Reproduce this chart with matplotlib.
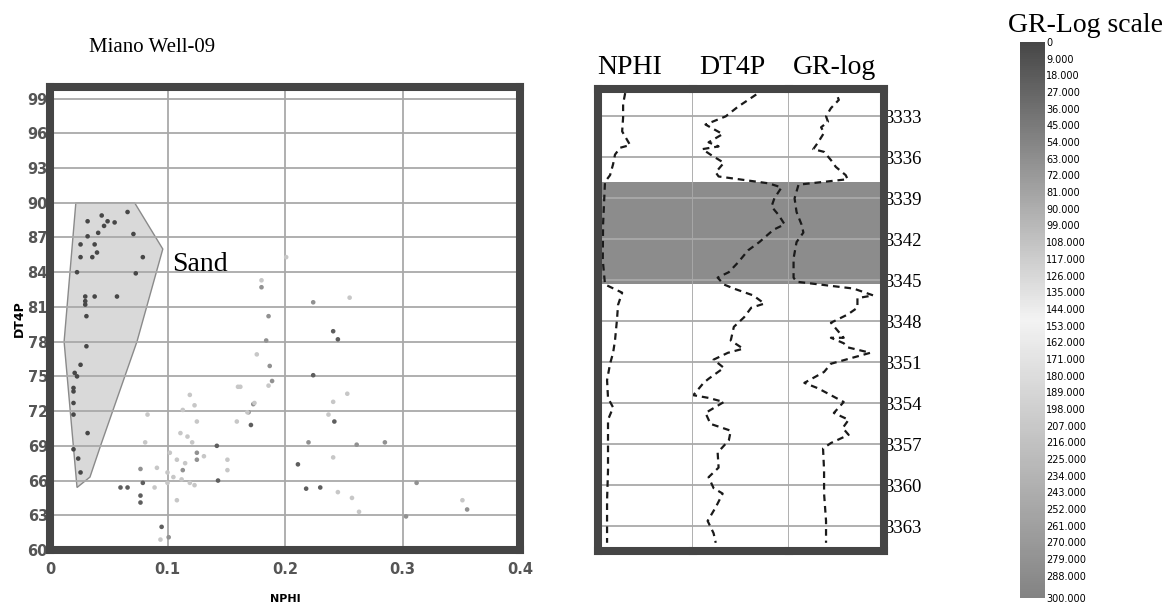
import matplotlib.pyplot as plt
from matplotlib.colors import LinearSegmentedColormap, Normalize
from matplotlib.colorbar import ColorbarBase
from matplotlib.patches import Polygon

# crossplot samples (NPHI, DT4P) coloured by gamma ray
nphi = [
    # clean sand
    0.032, 0.044, 0.049, 0.055, 0.046, 0.066, 0.071, 0.032, 0.041, 0.026,
    0.038, 0.026, 0.036, 0.040, 0.079, 0.023, 0.073, 0.030, 0.030, 0.030,
    0.038, 0.057, 0.031, 0.031, 0.026, 0.021, 0.023, 0.020, 0.020, 0.020,
    0.020, 0.032, 0.020, 0.024, 0.026,
    # low GR outside the sand polygon
    0.060, 0.066, 0.079, 0.077, 0.077, 0.095, 0.142, 0.143, 0.171, 0.211,
    0.241, 0.245, 0.224, 0.218, 0.230, 0.242,
    # medium GR
    0.101, 0.180, 0.186, 0.184, 0.187, 0.189, 0.173, 0.169, 0.224, 0.220,
    0.261, 0.285, 0.312, 0.303, 0.355, 0.113, 0.125, 0.125, 0.077,
    # shaly, high GR
    0.180, 0.186, 0.176, 0.160, 0.253, 0.241, 0.237, 0.241, 0.245, 0.257,
    0.263, 0.351, 0.119, 0.123, 0.113, 0.125, 0.111, 0.117, 0.121, 0.102,
    0.108, 0.115, 0.091, 0.100, 0.105, 0.112, 0.119, 0.123, 0.089, 0.100,
    0.108, 0.081, 0.083, 0.162, 0.151, 0.151, 0.159, 0.168, 0.174, 0.131,
    0.094, 0.201, 0.255,
]
dt4p = [
    88.4, 88.9, 88.4, 88.3, 88.0, 89.2, 87.3, 87.1, 87.4, 86.4,
    86.4, 85.3, 85.3, 85.7, 85.3, 84.0, 83.9, 81.9, 81.5, 81.2,
    81.9, 81.9, 80.2, 77.6, 76.0, 75.3, 75.0, 74.0, 73.7, 72.7,
    71.7, 70.1, 68.7, 67.9, 66.7,
    65.4, 65.4, 65.8, 64.7, 64.1, 62.0, 69.0, 66.0, 70.8, 67.4,
    78.9, 78.2, 75.1, 65.3, 65.4, 71.1,
    61.1, 82.7, 80.2, 78.1, 75.9, 74.6, 72.6, 71.9, 81.4, 69.3,
    69.1, 69.3, 65.8, 62.9, 63.5, 66.9, 68.4, 67.8, 67.0,
    83.3, 74.2, 76.9, 74.1, 73.5, 72.8, 71.7, 68.0, 65.0, 64.5,
    63.3, 64.3, 73.4, 72.5, 72.1, 71.1, 70.1, 69.8, 69.3, 68.4,
    67.8, 67.5, 67.1, 66.7, 66.3, 66.1, 65.8, 65.6, 65.4, 65.8,
    64.3, 69.3, 71.7, 74.1, 67.8, 66.9, 71.1, 71.9, 72.7, 68.1,
    60.9, 85.3, 81.8,
]
gr = [0] * 35 + [20] * 16 + [65] * 19 + [112] * 43

# sand zone outline on the crossplot
sand_nphi = [0.022, 0.072, 0.096, 0.074, 0.043, 0.034, 0.023, 0.012]
sand_dt4p = [90.0, 90.0, 86.0, 78.0, 69.0, 66.3, 65.4, 78.0]

# well logs against depth
nphi_depth = [3331.3, 3332.1, 3333.1, 3334.1, 3335.1, 3335.3, 3335.8, 3336.5,
              3337.3, 3337.8, 3340.9, 3343.5, 3345.3, 3345.9, 3346.8, 3347.8,
              3349.4, 3350.3, 3351.1, 3352.3, 3353.6, 3354.3, 3355.2, 3357.2,
              3358.9, 3361.1, 3362.6, 3364.2]
nphi_log = [0.171, 0.158, 0.158, 0.152, 0.202, 0.139, 0.107, 0.095,
            0.076, 0.044, 0.032, 0.030, 0.044, 0.152, 0.126, 0.120,
            0.107, 0.095, 0.076, 0.057, 0.063, 0.095, 0.063, 0.063,
            0.063, 0.057, 0.057, 0.057]

dt4p_depth = [3331.4, 3331.8, 3332.3, 3333.0, 3333.6, 3334.3, 3334.9, 3335.2,
              3335.4, 3335.8, 3336.4, 3337.1, 3337.4, 3337.9, 3338.2, 3339.0,
              3339.6, 3340.2, 3340.9, 3341.3, 3342.2, 3342.8, 3343.7, 3344.4,
              3344.8, 3345.3, 3345.6, 3346.1, 3346.7, 3347.0, 3347.7, 3348.4,
              3349.4, 3350.0, 3350.3, 3350.8, 3351.4, 3352.2, 3352.5, 3353.4,
              3353.6, 3353.9, 3354.7, 3355.5, 3356.0, 3356.7, 3357.6, 3358.7,
              3359.4, 3360.2, 3360.6, 3361.6, 3362.6, 3363.5, 3364.2]
dt4p_log = [86.4, 83.0, 78.7, 73.6, 65.1, 72.3, 66.4, 70.6,
            63.8, 67.2, 72.8, 69.4, 70.6, 91.5, 97.0, 94.0,
            92.8, 95.7, 98.3, 93.6, 87.7, 83.0, 78.7, 74.9,
            70.2, 72.8, 77.0, 85.1, 89.8, 84.3, 81.3, 77.0,
            75.7, 80.9, 74.5, 68.5, 72.8, 66.4, 64.3, 60.0,
            66.4, 72.8, 65.1, 67.2, 75.7, 74.9, 70.2, 70.6,
            66.4, 68.5, 72.3, 69.4, 66.0, 68.5, 69.4]

gr_depth = [3331.6, 3331.8, 3332.4, 3333.0, 3333.4, 3333.8, 3334.2, 3334.9,
            3335.4, 3335.6, 3336.2, 3336.7, 3337.3, 3337.6, 3338.0, 3339.0,
            3340.0, 3340.9, 3341.5, 3342.2, 3343.4, 3344.8, 3345.1, 3345.6,
            3346.1, 3346.3, 3347.0, 3347.5, 3348.1, 3349.2, 3349.2, 3349.6,
            3349.9, 3350.3, 3351.1, 3351.7, 3352.5, 3352.9, 3353.4, 3353.9,
            3354.7, 3355.2, 3355.8, 3356.3, 3356.9, 3357.3, 3358.9, 3360.6,
            3362.6, 3364.2]
gr_log = [77.3, 78.9, 66.5, 58.8, 61.9, 51.0, 55.7, 46.4,
          38.7, 55.7, 66.5, 74.2, 89.7, 92.8, 15.5, 9.3,
          12.4, 20.1, 23.2, 12.4, 7.7, 7.7, 12.4, 102.1,
          133.0, 108.2, 108.2, 92.8, 66.5, 86.6, 66.5, 86.6,
          92.8, 128.4, 66.5, 55.7, 24.7, 46.4, 66.5, 86.6,
          71.1, 94.3, 85.1, 94.3, 66.5, 54.1, 55.7, 55.7,
          58.8, 58.8]

sand_top = 3337.8
sand_base = 3345.3
depth_ticks = list(range(3333, 3364, 3))
gr_scale_ticks = list(range(0, 289, 9)) + [300]

FRAME = "#454545"
GRID = "#a9a9a9"
SERIF = "Liberation Serif"


def log_track(fig, rect, depth, values, xlim, first, last):
    ax = fig.add_axes(rect)
    ax.axhspan(sand_top, sand_base, color="#8c8c8c", lw=0)
    ax.plot(values, depth, color="#1a1a1a", lw=1.6, ls=(0, (3, 2.2)))
    ax.set_xlim(xlim)
    ax.set_ylim(3364.8, 3331.0)
    ax.set_xticks([])
    ax.set_yticks(depth_ticks)
    ax.grid(True, axis="y", color=GRID, lw=1.3)
    ax.tick_params(length=0, labelleft=False)
    for side in ("top", "bottom"):
        ax.spines[side].set_linewidth(5.8)
        ax.spines[side].set_color(FRAME)
    ax.spines["left"].set_visible(first)
    ax.spines["left"].set_linewidth(5.8)
    ax.spines["left"].set_color(FRAME)
    if last:
        ax.spines["right"].set_linewidth(5.8)
        ax.spines["right"].set_color(FRAME)
        ax.yaxis.tick_right()
        ax.tick_params(labelright=True, pad=0, labelsize=13.5)
        for lbl in ax.get_yticklabels():
            lbl.set_fontfamily(SERIF)
    else:
        ax.spines["right"].set_linewidth(1.3)
        ax.spines["right"].set_color(GRID)
    return ax


def main():
    W, H = 1173, 610
    fig = plt.figure(figsize=(W / 100, H / 100), dpi=100)

    gr_cmap = LinearSegmentedColormap.from_list(
        "gr_scale", [(0.0, "#474747"), (0.5, "#f3f3f3"), (1.0, "#838383")])
    gr_norm = Normalize(0, 300)

    # NPHI vs DT4P crossplot
    ax = fig.add_axes([50 / W, 1 - 550 / H, 470 / W, 463 / H])
    sand = Polygon(list(zip(sand_nphi, sand_dt4p)), closed=True,
                   facecolor="#d9d9d9", edgecolor="#8a8a8a", lw=1.0, zorder=1)
    ax.add_patch(sand)
    ax.scatter(nphi, dt4p, c=gr, cmap=gr_cmap, norm=gr_norm, s=11,
               linewidths=0, zorder=3)
    ax.set_xlim(0, 0.4)
    ax.set_ylim(60, 100)
    ax.set_xticks([0, 0.1, 0.2, 0.3, 0.4])
    ax.set_xticklabels(["0", "0.1", "0.2", "0.3", "0.4"])
    ax.set_yticks(range(60, 100, 3))
    ax.grid(True, color=GRID, lw=1.3)
    ax.tick_params(length=0, labelsize=10.5, labelcolor="#555555")
    ax.tick_params(axis="x", pad=9)
    ax.tick_params(axis="y", pad=1.5)
    for lbl in ax.get_xticklabels() + ax.get_yticklabels():
        lbl.set_fontweight("bold")
    for sp in ax.spines.values():
        sp.set_linewidth(5.8)
        sp.set_color(FRAME)
    ax.set_xlabel("NPHI", fontsize=8, fontweight="bold", labelpad=12)
    ax.set_ylabel("DT4P", fontsize=9, fontweight="bold", labelpad=1)
    ax.text(0.104, 84.7, "Sand", family=SERIF, fontsize=20, va="center")
    fig.text(152 / W, 1 - 52 / H, "Miano Well-09", family=SERIF,
             fontsize=15, ha="center", va="baseline")

    # log tracks
    left, right = 598, 884
    track_w = (right - left) / 3
    bottom, top = 551, 89
    tracks = [
        (nphi_depth, nphi_log, (0, 0.6), "NPHI"),
        (dt4p_depth, dt4p_log, (60, 100), "DT4P"),
        (gr_depth, gr_log, (0, 150), "GR-log"),
    ]
    header_x = [630, 732, 835]
    for i, (d, v, xlim, name) in enumerate(tracks):
        rect = [(left + i * track_w) / W, 1 - bottom / H,
                track_w / W, (bottom - top) / H]
        log_track(fig, rect, d, v, xlim, i == 0, i == 2)
        fig.text(header_x[i] / W, 1 - 74 / H, name, family=SERIF,
                 fontsize=20, ha="center", va="baseline")

    # gamma ray colour scale
    cax = fig.add_axes([1020 / W, 1 - 598 / H, 25 / W, 556 / H])
    cb = ColorbarBase(cax, cmap=gr_cmap, norm=gr_norm, orientation="vertical")
    cax.invert_yaxis()
    cb.outline.set_visible(False)
    cb.set_ticks(gr_scale_ticks)
    cb.set_ticklabels(["0"] + ["%.3f" % t for t in gr_scale_ticks[1:]])
    cax.tick_params(length=0, pad=1, labelsize=7)
    for lbl in cax.get_yticklabels():
        lbl.set_fontfamily(["Liberation Sans Narrow", "DejaVu Sans"])
    fig.text(1085 / W, 1 - 32 / H, "GR-Log scale", family=SERIF,
             fontsize=20, ha="center", va="baseline")

    plt.savefig("out.png", dpi=100)


if __name__ == '__main__':
    main()
